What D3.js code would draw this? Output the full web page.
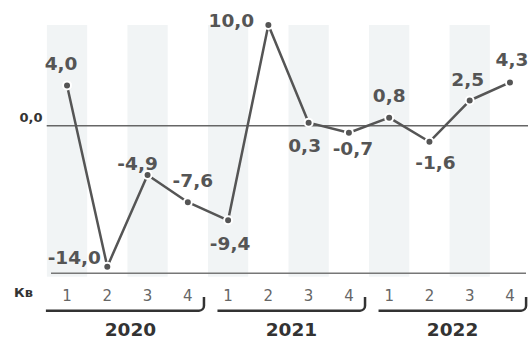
<!DOCTYPE html>
<html><head><meta charset="utf-8">
<script src="https://cdn.jsdelivr.net/npm/d3@7"></script>
<style>
html,body{margin:0;padding:0;background:#fff;}
svg{display:block;font-family:"DejaVu Sans",Verdana,sans-serif;}
</style></head>
<body><svg id="c" width="528" height="339"></svg>
<script>
const years = ["2020","2021","2022"];
const quarters = ["1","2","3","4"];
const values = [4.0,-14.0,-4.9,-7.6,-9.4,10.0,0.3,-0.7,0.8,-1.6,2.5,4.3];
const valueLabels = ["4,0","-14,0","-4,9","-7,6","-9,4","10,0","0,3","-0,7","0,8","-1,6","2,5","4,3"];
const zeroLabel = "0,0";
const quarterTitle = "Кв";
// label placement offsets relative to the point (layout only)
const labelDx = [-6,-33,-10,5,2,-37,-4,4,0,6,-2,2];
const labelDy = [-15,-3,-5,-15,30,2,29,22,-16,27,-15,-16];

const svg = d3.select("#c");
const cats = d3.range(values.length);
const x = d3.scaleBand().domain(cats).range([46.9,530.1]).padding(0);
const y = d3.scaleLinear().domain([-15,10]).range([276.7,25]);
const cx = i => x(i) + x.bandwidth()/2;

// shaded bands
svg.append("g").selectAll("rect").data(cats.filter(i=>i%2===0)).join("rect")
  .attr("x", i=>x(i)).attr("width", x.bandwidth())
  .attr("y", y(10)).attr("height", y(-15)-y(10))
  .attr("fill","#f1f4f5");

// zero line
svg.append("line").attr("x1",46.7).attr("x2",528).attr("y1",y(0)).attr("y2",y(0))
  .attr("stroke","#666").attr("stroke-width",1.5);
svg.append("text").attr("x",42.5).attr("y",y(0)-4).attr("text-anchor","end")
  .attr("font-size",13).attr("font-weight","bold").attr("fill","#333").text(zeroLabel);

// bottom axis line
svg.append("line").attr("x1",51).attr("x2",526).attr("y1",273.2).attr("y2",273.2)
  .attr("stroke","#777").attr("stroke-width",1.5);

// line
svg.append("path").datum(values)
  .attr("d", d3.line().x((d,i)=>cx(i)).y(d=>y(d)))
  .attr("fill","none").attr("stroke","#555").attr("stroke-width",2.5).attr("stroke-linejoin","round");

// dots
svg.append("g").selectAll("circle").data(values).join("circle")
  .attr("cx",(d,i)=>cx(i)).attr("cy",d=>y(d)).attr("r",4)
  .attr("fill","#555").attr("stroke","#fff").attr("stroke-width",2);

// value labels
svg.append("g").selectAll("text").data(values).join("text")
  .attr("x",(d,i)=>cx(i)+labelDx[i]).attr("y",(d,i)=>y(d)+labelDy[i])
  .attr("text-anchor","middle").attr("font-size",18.5).attr("font-weight","bold")
  .attr("fill","#555").text((d,i)=>valueLabels[i]);

// quarter axis
svg.append("g").selectAll("text").data(cats).join("text")
  .attr("x",i=>cx(i)).attr("y",301).attr("text-anchor","middle")
  .attr("font-size",15).attr("fill","#666").text(i=>quarters[i%4]);
svg.append("text").attr("x",14).attr("y",297).attr("font-size",13)
  .attr("font-weight","bold").attr("fill","#333").text(quarterTitle);

// year brackets
const by = 310.7, r = 5;
years.forEach((yr,k)=>{
  const s = k*4, e = k*4+3;
  const x0 = k===0 ? x(s)-1 : x(s)+9.5;
  const x1 = x(e)+x.bandwidth()-4;
  svg.append("path")
    .attr("d",`M${x0},${by}H${x1-r}A${r},${r} 0 0 0 ${x1},${by-r}V${297}`)
    .attr("fill","none").attr("stroke","#333").attr("stroke-width",2.5);
  svg.append("text").attr("x",(x(s)+x(e)+x.bandwidth())/2+3).attr("y",336)
    .attr("text-anchor","middle").attr("font-size",18.5).attr("font-weight","bold")
    .attr("fill","#333").text(yr);
});
</script></body></html>
